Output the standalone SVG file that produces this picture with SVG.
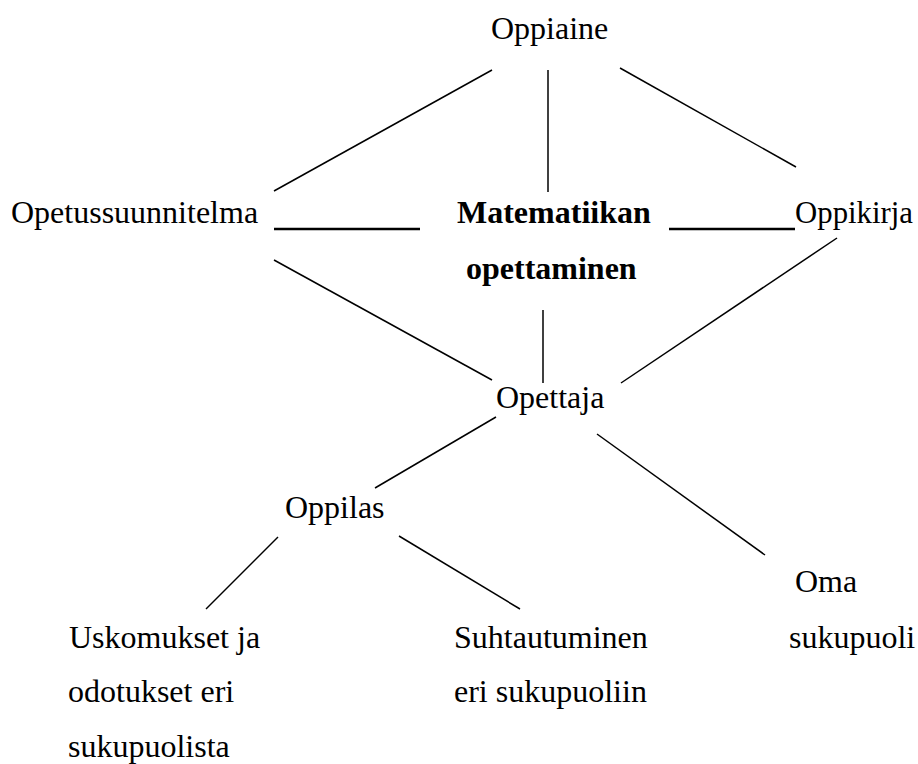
<svg xmlns="http://www.w3.org/2000/svg" width="918" height="764" viewBox="0 0 918 764">
<style>
text { font-family: 'Liberation Serif', Tinos, 'Times New Roman', 'DejaVu Serif', serif; font-size: 32px; fill: #000; }
.b { font-weight: bold; }
.ln { stroke: #000; stroke-width: 1.5; fill: none; }
.ul { stroke: #000; stroke-width: 2.5; fill: none; }
</style>
<rect width="918" height="764" fill="#fff"/>
<g id="connectors">
<line class="ln" x1="492" y1="70" x2="274" y2="191"/>
<line class="ln" x1="548" y1="70" x2="548" y2="192"/>
<line class="ln" x1="620" y1="68" x2="796" y2="167"/>
<line class="ul" x1="274" y1="229" x2="420" y2="229"/>
<line class="ul" x1="669" y1="229" x2="795" y2="229"/>
<line class="ln" x1="274" y1="260" x2="492" y2="380"/>
<line class="ln" x1="837" y1="238" x2="621" y2="383"/>
<line class="ln" x1="543" y1="310" x2="543" y2="383"/>
<line class="ln" x1="496" y1="417" x2="375" y2="488"/>
<line class="ln" x1="597" y1="434" x2="765" y2="555"/>
<line class="ln" x1="278" y1="537" x2="206" y2="609"/>
<line class="ln" x1="399" y1="536" x2="520" y2="609"/>
</g>
<g id="oppiaine"><text x="491" y="39">Oppiaine</text></g>
<g id="opetussuunnitelma"><text x="11" y="223">Opetussuunnitelma</text></g>
<g id="matematiikan"><text class="b" x="457" y="223">Matematiikan</text><text class="b" x="466" y="279">opettaminen</text></g>
<g id="oppikirja"><text x="795" y="223" textLength="118" lengthAdjust="spacingAndGlyphs">Oppikirja</text></g>
<g id="opettaja"><text x="496" y="408">Opettaja</text></g>
<g id="oppilas"><text x="285" y="518">Oppilas</text></g>
<g id="oma"><text x="795" y="592">Oma</text><text x="789" y="648">sukupuoli</text></g>
<g id="uskomukset"><text x="69" y="648">Uskomukset ja</text><text x="68" y="702">odotukset eri</text><text x="68" y="757">sukupuolista</text></g>
<g id="suhtautuminen"><text x="454" y="648">Suhtautuminen</text><text x="454" y="702">eri sukupuoliin</text></g>
</svg>
